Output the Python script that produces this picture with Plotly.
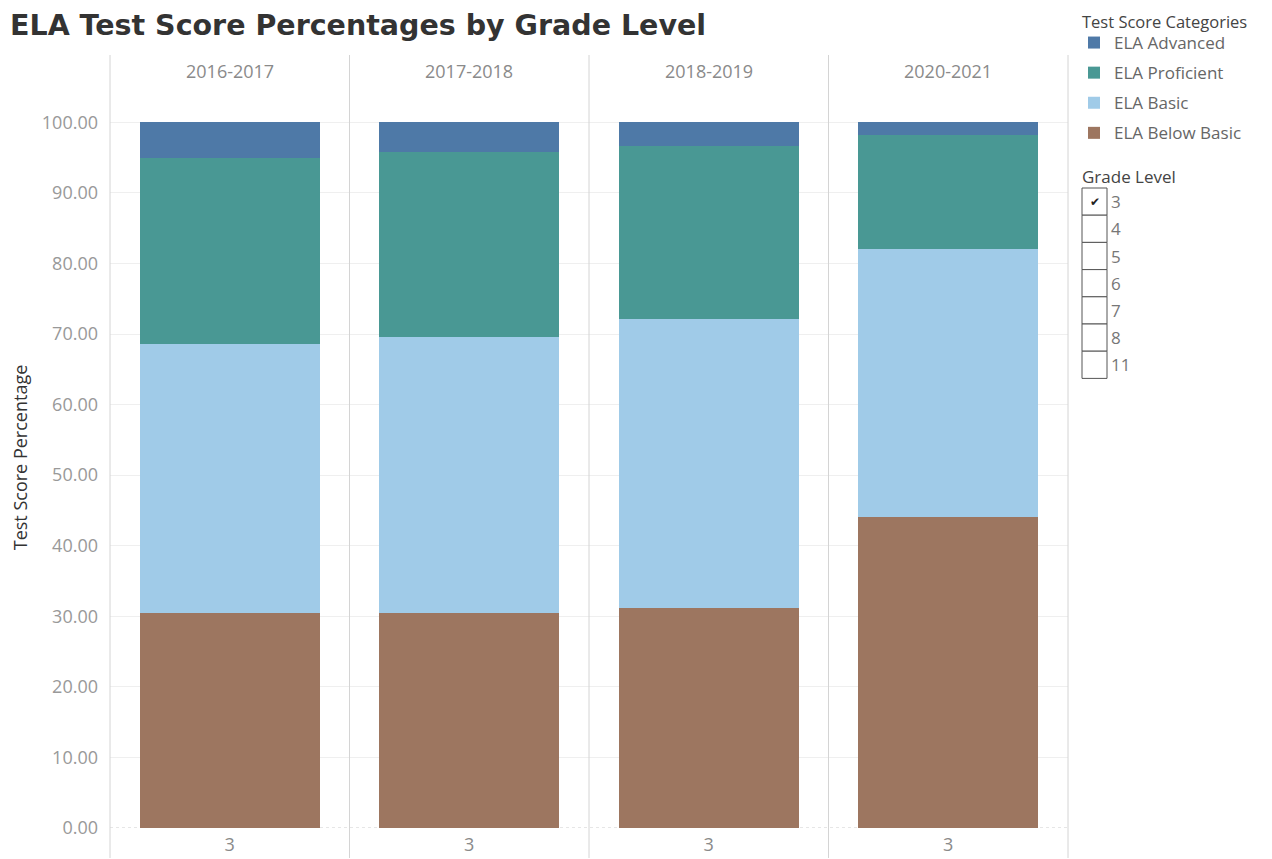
import plotly.graph_objects as go

years = ["2016-2017", "2017-2018", "2018-2019", "2020-2021"]
grade_shown = "3"
below_basic = [30.5, 30.5, 31.2, 44.0]
basic = [38.1, 39.1, 40.9, 38.0]
proficient = [26.3, 26.2, 24.5, 16.2]
advanced = [5.1, 4.2, 3.4, 1.8]
categories = ["ELA Below Basic", "ELA Basic", "ELA Proficient", "ELA Advanced"]
legend_rank = [4, 3, 2, 1]
colors = ["#9d7660", "#a0cbe8", "#499894", "#4e79a7"]
grade_levels = ["3", "4", "5", "6", "7", "8", "11"]
y_ticks = [0, 10, 20, 30, 40, 50, 60, 70, 80, 90, 100]

FONT = "Open Sans"
OFF = 8  # page body margin
W, H = 1272 - OFF, 859 - OFF
# plot area in reference page pixels
PX0, PX1, PY0, PY1 = 110, 1068, 87, 828
L, R, T, B = PX0 - OFF, W - (PX1 - OFF), PY0 - OFF, H - (PY1 - OFF)
pw, ph = PX1 - PX0, PY1 - PY0


def px_x(px):
    return (px - PX0) / pw


def px_y(py):
    return (PY1 - py) / ph


fig = go.Figure()
series = [below_basic, basic, proficient, advanced]
for name, vals, col, rk in zip(categories, series, colors, legend_rank):
    fig.add_trace(go.Bar(
        x=years, y=vals, name=name, marker=dict(color=col, line=dict(width=0)),
        legendgroup=name, legendrank=rk,
    ))

shapes = []
for k in range(5):
    shapes.append(dict(type="line", xref="paper", yref="paper",
                       x0=k / 4, x1=k / 4, y0=px_y(858), y1=px_y(55),
                       line=dict(color="#d4d4d4", width=1)))
shapes.append(dict(type="line", xref="paper", yref="y", x0=0, x1=1, y0=0, y1=0,
                   line=dict(color="#cccccc", width=1, dash="dot"), layer="below"))

annotations = []
for yr in years:
    annotations.append(dict(x=yr, xref="x", y=px_y(71), yref="paper", text=yr,
                            showarrow=False, font=dict(family=FONT, size=18, color="#8a8a8a"),
                            yanchor="middle"))

annotations.append(dict(x=px_x(1080), xref="paper", y=px_y(8), yref="paper",
                        text="Test Score Categories", showarrow=False, xanchor="left", yanchor="top",
                        font=dict(family=FONT, size=16.5, color="#444444")))
annotations.append(dict(x=px_x(1080), xref="paper", y=px_y(176), yref="paper",
                        text="Grade Level", showarrow=False, xanchor="left", yanchor="middle",
                        font=dict(family=FONT, size=17, color="#444444")))
row_h = 27.2
top0 = 188
for j, g in enumerate(grade_levels):
    y0 = top0 + j * row_h
    shapes.append(dict(type="rect", xref="paper", yref="paper",
                       x0=px_x(1082), x1=px_x(1107), y0=px_y(y0 + row_h), y1=px_y(y0),
                       line=dict(color="#555555", width=1), fillcolor="white"))
    annotations.append(dict(x=px_x(1109), xref="paper", y=px_y(y0 + row_h / 2), yref="paper",
                            text=g, showarrow=False, xanchor="left", yanchor="middle",
                            font=dict(family=FONT, size=17, color="#777777")))
    if g == grade_shown:
        annotations.append(dict(x=px_x(1094.5), xref="paper", y=px_y(y0 + row_h / 2), yref="paper",
                                text="✔", showarrow=False, xanchor="center", yanchor="middle",
                                font=dict(family="DejaVu Sans", size=12, color="#222222")))

fig.update_layout(
    width=W, height=H,
    margin=dict(l=L, r=R, t=T, b=B, autoexpand=False),
    barmode="stack", bargap=0.25,
    plot_bgcolor="white", paper_bgcolor="white",
    title=dict(text="<b>ELA Test Score Percentages by Grade Level</b>",
               x=(10 - OFF) / W, xref="container", xanchor="left",
               y=1 - (25 - OFF) / H, yref="container", yanchor="middle",
               font=dict(family="DejaVu Sans", size=28.5, color="#333333")),
    legend=dict(traceorder="grouped", tracegroupgap=5,
                x=px_x(1074), xanchor="left", y=px_y(25), yanchor="top",
                font=dict(family=FONT, size=17, color="#666666"),
                bgcolor="rgba(0,0,0,0)", itemclick=False),
    shapes=shapes, annotations=annotations,
    font=dict(family=FONT),
)
fig.update_xaxes(tickvals=years, ticktext=[grade_shown] * len(years), showgrid=False,
                 showline=False, zeroline=False, ticks="",
                 tickfont=dict(family=FONT, size=18, color="#8a8a8a"), ticklabelstandoff=4)
fig.update_yaxes(range=[0, 105], tickvals=y_ticks, tickformat=".2f",
                 showgrid=True, gridcolor="#efefef", gridwidth=1, zeroline=False,
                 showline=False, ticks="", ticklabelstandoff=11,
                 tickfont=dict(family=FONT, size=18, color="#999999"),
                 title=dict(text="Test Score Percentage", standoff=10,
                            font=dict(family=FONT, size=18, color="#333333")))

fig.write_html("out.html")
